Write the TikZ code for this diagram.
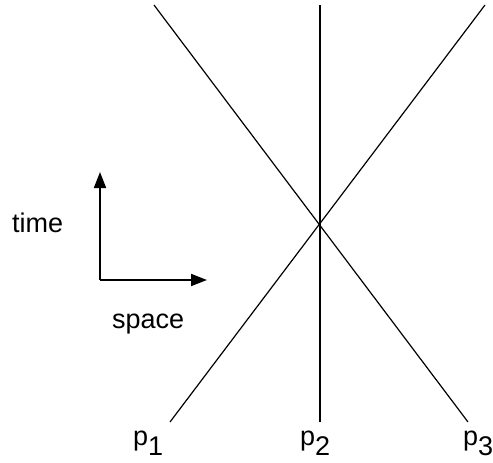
\documentclass[tikz,border=0pt]{standalone}
\usepackage{fontspec}
\setmainfont{Liberation Sans}
\usepackage{tikz}
\usetikzlibrary{arrows.meta, positioning}

\begin{document}
\begin{tikzpicture}[
    x=1pt, y=-1pt,
    wl/.style={line width=1.2pt, black},
    axis/.style={line width=1.8pt, -{Triangle[length=16pt, width=12pt]}},
    lbl/.style={inner sep=0pt, anchor=base west, font=\fontsize{27}{32}\selectfont}
]
  \useasboundingbox (0,0) rectangle (493,463);
  % world lines
  \coordinate (p1bot) at (170,422);
  \coordinate (p1top) at (485,5);
  \coordinate (p2bot) at (320,422);
  \coordinate (p2top) at (320,5);
  \coordinate (p3bot) at (468,422);
  \coordinate (p3top) at (154,5);
  \draw[wl] (p1bot) -- (p1top);
  \draw[wl] (p2bot) -- (p2top);
  \draw[wl] (p3bot) -- (p3top);
  \node[lbl] (p1) at (133,445) {p\raisebox{-10pt}{1}};
  \node[lbl] (p2) at (300,445) {p\raisebox{-10pt}{2}};
  \node[lbl] (p3) at (463,445) {p\raisebox{-10pt}{3}};
  % axes
  \coordinate (orig) at (100,280);
  \coordinate (tup) at (100,172);
  \coordinate (xright) at (207,280);
  \draw[axis] (orig) -- (tup);
  \draw[axis] (orig) -- (xright);
  \node[lbl] (time) at (12,232) {time};
  \node[lbl] (space) at (112,328) {space};
\end{tikzpicture}
\end{document}
